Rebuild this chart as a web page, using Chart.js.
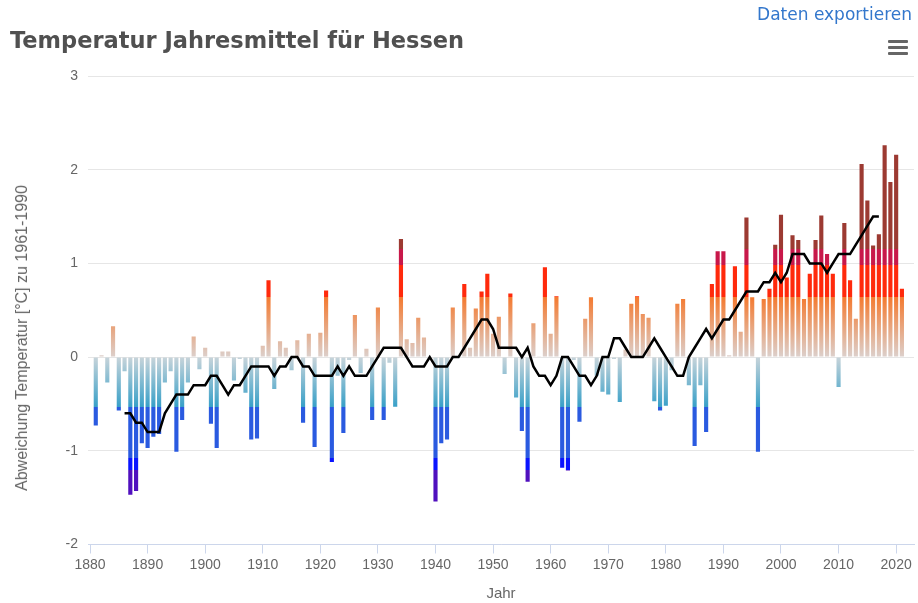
<!DOCTYPE html>
<html>
<head>
<meta charset="utf-8">
<script src="https://cdn.jsdelivr.net/npm/chart.js@4.4.0/dist/chart.umd.min.js"></script>
<style>
html, body { margin: 0; padding: 0; background: #fff; }
#rahmen { position: relative; width: 918px; height: 603px; overflow: hidden; }
#grafik { position: absolute; left: 0; top: 0; }
#titel { position: absolute; left: 10px; top: 27px; font: bold 22.5px "DejaVu Sans", "Liberation Sans", sans-serif; color: #505050; white-space: nowrap; }
#export { position: absolute; right: 6px; top: 4px; font: 17px "DejaVu Sans", "Liberation Sans", sans-serif; color: #3377cc; white-space: nowrap; }
#menu { position: absolute; left: 888px; top: 40px; width: 20px; }
#menu span { display: block; height: 3px; background: #666; margin-bottom: 3px; border-radius: 1px; }
#ytitel { position: absolute; left: 22px; top: 338px; transform: translate(-50%, -50%) rotate(-90deg); font: 16px "Liberation Sans", Arial, sans-serif; color: #666; white-space: nowrap; }
</style>
</head>
<body>
<div id="rahmen">
  <canvas id="grafik" width="918" height="603"></canvas>
  <div id="titel">Temperatur Jahresmittel für Hessen</div>
  <div id="export">Daten exportieren</div>
  <div id="menu"><span></span><span></span><span></span></div>
  <div id="ytitel">Abweichung Temperatur [°C] zu 1961-1990</div>
</div>
<script>
// Jahre (Kategorien)
const jahre = [
  1881, 1882, 1883, 1884, 1885, 1886, 1887, 1888, 1889, 1890,
  1891, 1892, 1893, 1894, 1895, 1896, 1897, 1898, 1899, 1900,
  1901, 1902, 1903, 1904, 1905, 1906, 1907, 1908, 1909, 1910,
  1911, 1912, 1913, 1914, 1915, 1916, 1917, 1918, 1919, 1920,
  1921, 1922, 1923, 1924, 1925, 1926, 1927, 1928, 1929, 1930,
  1931, 1932, 1933, 1934, 1935, 1936, 1937, 1938, 1939, 1940,
  1941, 1942, 1943, 1944, 1945, 1946, 1947, 1948, 1949, 1950,
  1951, 1952, 1953, 1954, 1955, 1956, 1957, 1958, 1959, 1960,
  1961, 1962, 1963, 1964, 1965, 1966, 1967, 1968, 1969, 1970,
  1971, 1972, 1973, 1974, 1975, 1976, 1977, 1978, 1979, 1980,
  1981, 1982, 1983, 1984, 1985, 1986, 1987, 1988, 1989, 1990,
  1991, 1992, 1993, 1994, 1995, 1996, 1997, 1998, 1999, 2000,
  2001, 2002, 2003, 2004, 2005, 2006, 2007, 2008, 2009, 2010,
  2011, 2012, 2013, 2014, 2015, 2016, 2017, 2018, 2019, 2020,
  2021
];

// Abweichung vom Mittel 1961-1990 in °C
const abweichung = [
  -0.73, 0.02, -0.27, 0.33, -0.57, -0.15, -1.47, -1.43, -0.92, -0.97,
  -0.85, -0.82, -0.27, -0.15, -1.01, -0.67, -0.27, 0.22, -0.13, 0.10,
  -0.71, -0.97, 0.06, 0.06, -0.25, -0.02, -0.38, -0.88, -0.87, 0.12,
  0.82, -0.34, 0.17, 0.10, -0.14, 0.18, -0.70, 0.25, -0.96, 0.26,
  0.71, -1.12, -0.20, -0.81, -0.03, 0.45, -0.17, 0.09, -0.67, 0.53,
  -0.67, -0.06, -0.53, 1.26, 0.19, 0.15, 0.42, 0.21, 0.00, -1.54,
  -0.92, -0.88, 0.53, 0.01, 0.78, 0.10, 0.52, 0.70, 0.89, 0.25,
  0.43, -0.18, 0.68, -0.43, -0.79, -1.33, 0.36, 0.01, 0.96, 0.25,
  0.65, -1.18, -1.21, -0.03, -0.69, 0.41, 0.64, -0.20, -0.37, -0.40,
  -0.02, -0.48, 0.08, 0.57, 0.65, 0.46, 0.42, -0.47, -0.57, -0.52,
  -0.14, 0.57, 0.62, -0.30, -0.95, -0.30, -0.80, 0.78, 1.13, 1.13,
  0.02, 0.97, 0.27, 1.49, 0.64, -1.01, 0.62, 0.73, 1.20, 1.52,
  0.85, 1.30, 1.25, 0.62, 0.89, 1.25, 1.51, 1.10, 0.89, -0.32,
  1.43, 0.82, 0.41, 2.06, 1.67, 1.19, 1.31, 2.26, 1.87, 2.16,
  0.73
];

// gleitendes Mittel (schwarze Linie)
const mittel = [
  null, null, null, null, null, -0.6, -0.6, -0.7, -0.7, -0.8,
  -0.8, -0.8, -0.6, -0.5, -0.4, -0.4, -0.4, -0.3, -0.3, -0.3,
  -0.2, -0.2, -0.3, -0.4, -0.3, -0.3, -0.2, -0.1, -0.1, -0.1,
  -0.1, -0.2, -0.1, -0.1, 0.0, 0.0, -0.1, -0.1, -0.2, -0.2,
  -0.2, -0.2, -0.1, -0.2, -0.1, -0.2, -0.2, -0.2, -0.1, 0.0,
  0.1, 0.1, 0.1, 0.1, 0.0, -0.1, -0.1, -0.1, 0.0, -0.1,
  -0.1, -0.1, 0.0, 0.0, 0.1, 0.2, 0.3, 0.4, 0.4, 0.3,
  0.1, 0.1, 0.1, 0.1, 0.0, 0.1, -0.1, -0.2, -0.2, -0.3,
  -0.2, 0.0, 0.0, -0.1, -0.2, -0.2, -0.3, -0.2, 0.0, 0.0,
  0.2, 0.2, 0.1, 0.0, 0.0, 0.0, 0.1, 0.2, 0.1, 0.0,
  -0.1, -0.2, -0.2, 0.0, 0.1, 0.2, 0.3, 0.2, 0.3, 0.4,
  0.4, 0.5, 0.6, 0.7, 0.7, 0.7, 0.8, 0.8, 0.9, 0.8,
  0.9, 1.1, 1.1, 1.1, 1.0, 1.0, 1.0, 0.9, 1.0, 1.1,
  1.1, 1.1, 1.2, 1.3, 1.4, 1.5, 1.5, null, null, null,
  null
];

const xTicks = [1880, 1890, 1900, 1910, 1920, 1930, 1940, 1950, 1960, 1970, 1980, 1990, 2000, 2010, 2020];
const yTicks = [-2, -1, 0, 1, 2, 3];

// Farbstufen der Balken (Wert, Farbe)
const farbStufen = [
  [3, '#9c3a32'], [1.15, '#9c3a32'],
  [1.15, '#c8184a'], [0.98, '#c8184a'],
  [0.98, '#ff2a0c'], [0.64, '#ff2a0c'],
  [0.64, '#f47a30'], [0, '#dcd0cc'],
  [0, '#c8d4da'], [-0.53, '#38a0c8'],
  [-0.53, '#2a5ae0'], [-1.08, '#2a5ae0'],
  [-1.08, '#0a14ff'], [-1.2, '#0a14ff'],
  [-1.2, '#5010be'], [-2, '#5010be']
];

function balkenFarbe(context) {
  const chart = context.chart;
  if (!chart.chartArea) return '#999';
  const y = chart.scales.y;
  const oben = y.getPixelForValue(3);
  const unten = y.getPixelForValue(-2);
  const g = chart.ctx.createLinearGradient(0, oben, 0, unten);
  farbStufen.forEach(([v, c]) => {
    const t = (y.getPixelForValue(v) - oben) / (unten - oben);
    g.addColorStop(Math.min(1, Math.max(0, t)), c);
  });
  return g;
}

Chart.defaults.font.family = '"Liberation Sans", Arial, sans-serif';

new Chart(document.getElementById('grafik'), {
  type: 'bar',
  data: {
    datasets: [
      {
        type: 'line',
        order: 0,
        data: jahre.map((j, i) => ({ x: j, y: mittel[i] })),
        borderColor: '#000',
        borderWidth: 2.5,
        pointRadius: 0,
        fill: false,
        tension: 0
      },
      {
        type: 'bar',
        order: 1,
        data: jahre.map((j, i) => ({ x: j, y: abweichung[i] })),
        backgroundColor: balkenFarbe,
        borderWidth: 0,
        barPercentage: 0.72,
        categoryPercentage: 1
      }
    ]
  },
  options: {
    responsive: false,
    animation: false,
    layout: { padding: { top: 76, right: 4, left: 0, bottom: 0 } },
    plugins: { legend: { display: false }, tooltip: { enabled: false } },
    scales: {
      x: {
        type: 'linear',
        min: 1879.65,
        max: 2023.1,
        offset: false,
        afterBuildTicks: s => { s.ticks = xTicks.map(v => ({ value: v })); },
        afterFit: s => { s.height = 58.5; },
        grid: { offset: false, drawOnChartArea: false, color: '#ccd6eb', tickLength: 9 },
        border: { color: '#ccd6eb' },
        ticks: { color: '#666', font: { size: 14 }, padding: 3, maxRotation: 0, autoSkip: false, callback: v => String(v) },
        title: { display: true, text: 'Jahr', color: '#666', font: { size: 15 }, padding: 0 }
      },
      y: {
        min: -2,
        max: 3,
        afterBuildTicks: s => { s.ticks = yTicks.map(v => ({ value: v })); },
        afterFit: s => { s.width = 88; },
        grid: { color: '#e6e6e6', drawTicks: false },
        border: { display: false },
        ticks: { color: '#666', font: { size: 14 }, padding: 10, callback: v => String(v) },
        title: { display: false }
      }
    }
  }
});
</script>
</body>
</html>
